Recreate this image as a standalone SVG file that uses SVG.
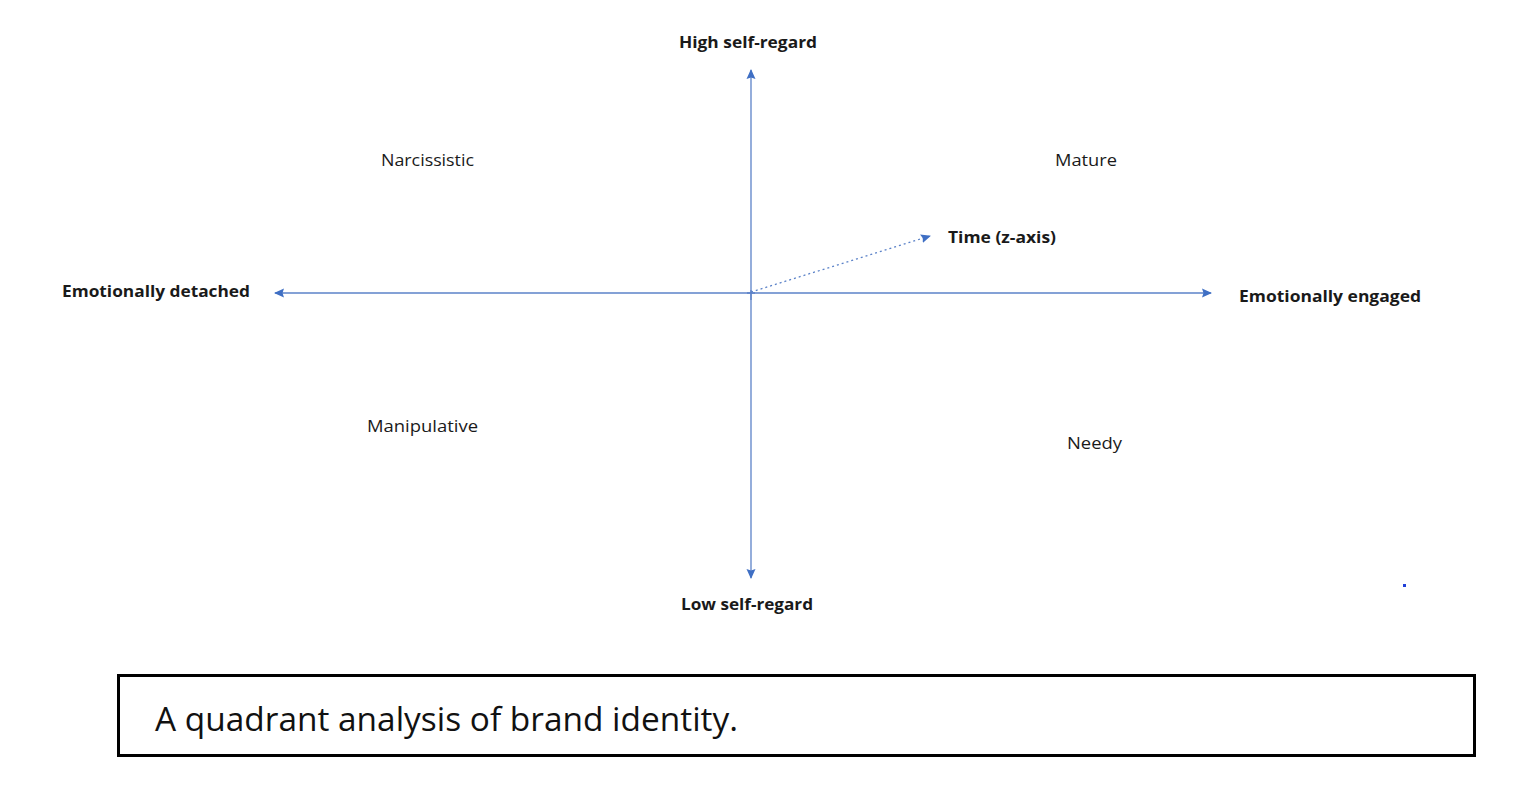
<svg xmlns="http://www.w3.org/2000/svg" width="1515" height="788" viewBox="0 0 1515 788">
<style>
.lbl{font-family:"Open Sans","Liberation Sans",sans-serif;fill:#1a1a1a;font-size:16px}
.b{font-weight:bold}
.ax{stroke:#5b82c8;stroke-width:1.3;fill:none}
</style>
<defs>
<marker id="ah" markerWidth="12" markerHeight="12" refX="9" refY="5" orient="auto" markerUnits="userSpaceOnUse">
<path d="M0,0.5 L10,5 L0,9.5 L1.5,5 Z" fill="#3f6fc4"/>
</marker>
</defs>
<rect width="1515" height="788" fill="#ffffff"/>
<g id="connectors">
<line class="ax" x1="751" y1="300" x2="751" y2="70" marker-end="url(#ah)"/>
<line class="ax" x1="751" y1="290" x2="751" y2="578" marker-end="url(#ah)"/>
<line class="ax" x1="755" y1="293" x2="275" y2="293" marker-end="url(#ah)"/>
<line class="ax" x1="747" y1="293" x2="1211" y2="293" marker-end="url(#ah)"/>
<line x1="751" y1="292" x2="930" y2="236" stroke="#5b82c8" stroke-width="1.3" stroke-dasharray="2,3" marker-end="url(#ah)"/>
</g>
<g id="high"><text class="lbl b" x="679" y="48" textLength="138" lengthAdjust="spacingAndGlyphs">High self-regard</text></g>
<g id="low"><text class="lbl b" x="681" y="610" textLength="132" lengthAdjust="spacingAndGlyphs">Low self-regard</text></g>
<g id="detached"><text class="lbl b" x="62" y="297" textLength="188" lengthAdjust="spacingAndGlyphs">Emotionally detached</text></g>
<g id="engaged"><text class="lbl b" x="1239" y="302" textLength="182" lengthAdjust="spacingAndGlyphs">Emotionally engaged</text></g>
<g id="time"><text class="lbl b" x="948" y="243" textLength="108" lengthAdjust="spacingAndGlyphs">Time (z-axis)</text></g>
<g id="narcissistic"><text class="lbl" x="381" y="166" textLength="93" lengthAdjust="spacingAndGlyphs">Narcissistic</text></g>
<g id="mature"><text class="lbl" x="1055" y="166" textLength="62" lengthAdjust="spacingAndGlyphs">Mature</text></g>
<g id="manipulative"><text class="lbl" x="367" y="432" textLength="111" lengthAdjust="spacingAndGlyphs">Manipulative</text></g>
<g id="needy"><text class="lbl" x="1067" y="449" textLength="55" lengthAdjust="spacingAndGlyphs">Needy</text></g>
<rect x="1403" y="584" width="3" height="3" fill="#1f3fd8"/>
<g id="caption">
<rect x="118.5" y="675.5" width="1356" height="80" fill="none" stroke="#000" stroke-width="3"/>
<text x="155" y="731" font-family="Open Sans,Liberation Sans,sans-serif" font-size="32" fill="#111" textLength="583" lengthAdjust="spacingAndGlyphs">A quadrant analysis of brand identity.</text>
</g>
</svg>
